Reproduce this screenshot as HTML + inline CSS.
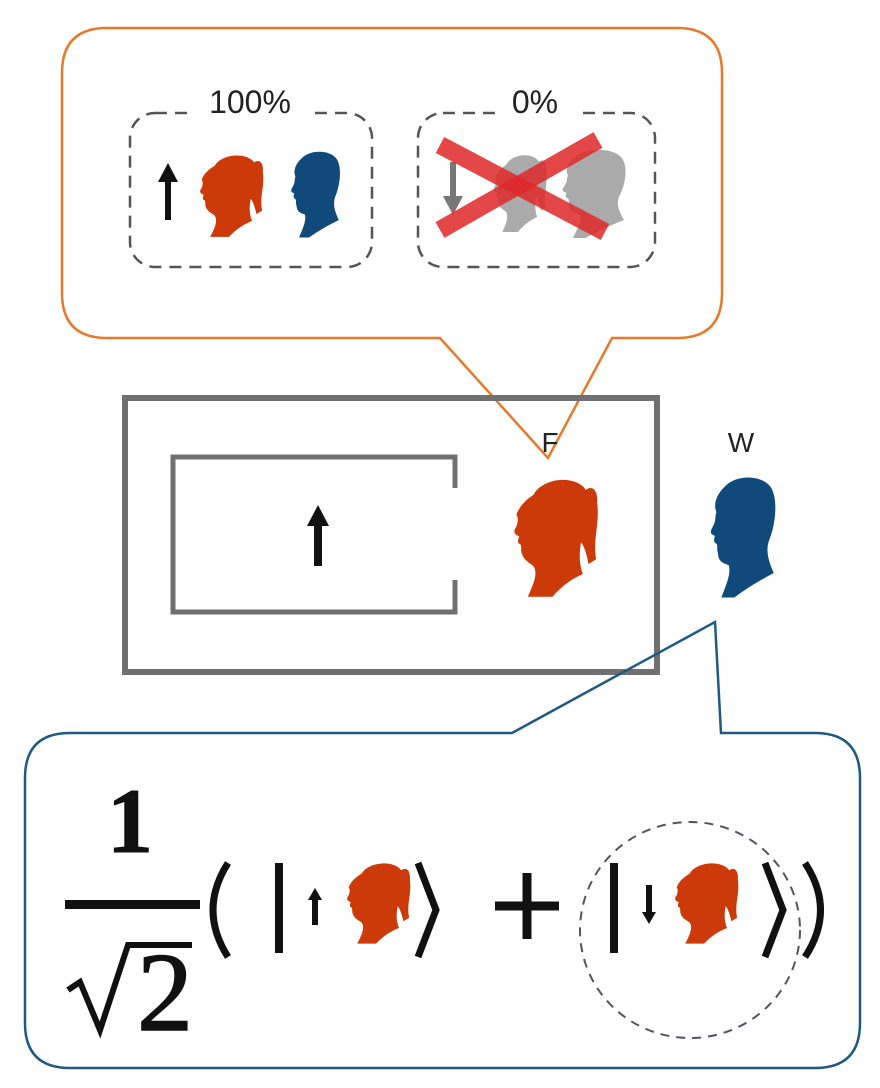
<!DOCTYPE html>
<html><head><meta charset="utf-8"><style>html,body{margin:0;padding:0;background:#fff}svg{display:block}</style></head>
<body>
<svg width="880" height="1088" viewBox="0 0 880 1088" xmlns="http://www.w3.org/2000/svg">
<defs>
<path id="wom" d="M30,20 C40,2 75,0 85,15 C92,10 98,15 97,28 C100,50 92,65 96,85 L88,90 C85,75 82,70 80,68 C78,80 78,90 82,100 C70,105 60,112 50,123 L24,123 C30,110 35,100 30,92 C25,88 20,86 18,80 C16,76 18,72 16,70 C12,68 14,65 15,62 C10,60 8,58 12,52 C14,46 14,44 12,40 C15,32 22,25 30,20 Z"/>
<path id="man" d="M30,12 C45,-2 80,0 88,15 C96,30 90,55 85,65 C80,75 82,85 90,100 C72,108 58,115 42,125 L26,125 C33,110 38,100 35,92 C28,90 22,88 22,80 C20,76 22,72 20,70 C15,68 18,64 18,62 C12,60 12,58 16,52 C20,46 18,42 20,38 C16,30 20,20 30,12 Z"/>
</defs>
<path d="M107,28 H677 Q722,28 722,73 V293 Q722,338 677,338 H612 L548,458 L440,338 H107 Q62,338 62,293 V73 Q62,28 107,28 Z" fill="none" stroke="#e8792a" stroke-width="2.5"/>
<rect x="130" y="113" width="242" height="154" rx="25" fill="none" stroke="#555" stroke-width="2.5" stroke-dasharray="12,8"/>
<rect x="190" y="95" width="120" height="30" fill="#fff"/>
<text x="250" y="113" font-family="Liberation Sans, sans-serif" font-size="32" text-anchor="middle" fill="#222">100%</text>
<rect x="418" y="113" width="237" height="154" rx="25" fill="none" stroke="#555" stroke-width="2.5" stroke-dasharray="12,8"/>
<rect x="495" y="95" width="80" height="30" fill="#fff"/>
<text x="535" y="113" font-family="Liberation Sans, sans-serif" font-size="32" text-anchor="middle" fill="#222">0%</text>
<path d="M165,220 V182 H158 L168,163 L178,182 H171 V220 Z" fill="#111"/>
<use href="#wom" transform="translate(193,152) scale(0.72,0.69)" fill="#cc3a0a"/>
<use href="#man" transform="translate(283,150) scale(0.62,0.7)" fill="#0f4a7a"/>
<path d="M450,162 V196 H443 L453,215 L463,196 H456 V162 Z" fill="#777"/>
<use href="#wom" transform="translate(488,152) scale(0.6,0.65)" fill="#aaa"/>
<use href="#man" transform="translate(552,148) scale(0.8,0.72)" fill="#aaa"/>
<line x1="440" y1="145" x2="605" y2="232" stroke="#e02828" stroke-width="18" opacity="0.85"/>
<line x1="440" y1="230" x2="598" y2="140" stroke="#e02828" stroke-width="18" opacity="0.85"/>
<rect x="125" y="398" width="532" height="274" fill="none" stroke="#707070" stroke-width="6"/>
<path d="M455,488 V457 H173 V612 H455 V580" fill="none" stroke="#707070" stroke-width="5"/>
<path d="M314,566 V526 H307 L318,505 L329,526 H322 V566 Z" fill="#111"/>
<text x="550" y="452" font-family="Liberation Sans, sans-serif" font-size="28" text-anchor="middle" fill="#222">F</text>
<text x="741" y="452" font-family="Liberation Sans, sans-serif" font-size="28" text-anchor="middle" fill="#222">W</text>
<use href="#wom" transform="translate(505,475) scale(0.95,0.99)" fill="#cc3a0a"/>
<use href="#man" transform="translate(700,475) scale(0.82,0.98)" fill="#0f4a7a"/>
<path d="M512,733 L715,622 L721,733 H815 Q860,733 860,778 V1023 Q860,1068 815,1068 H70 Q25,1068 25,1023 V778 Q25,733 70,733 Z" fill="none" stroke="#1e5a82" stroke-width="2.5"/>
<g font-family="Liberation Serif, serif" fill="#111" stroke="#111">
<text x="130" y="852" font-size="92" font-weight="bold" stroke-width="1" text-anchor="middle">1</text>
<rect x="65" y="900" width="135" height="9" stroke="none"/>
<path d="M68,990 L80,982 L100,1030 L128,945 H192" fill="none" stroke-width="6"/>
<text x="165" y="1030" font-size="112" stroke-width="1.5" text-anchor="middle">2</text>
</g>
<g fill="none" stroke="#111" stroke-linecap="butt">
<path d="M228,863 Q198,910 228,957" stroke-width="7"/>
<line x1="279" y1="863" x2="279" y2="953" stroke-width="8"/>
<path d="M418,863 L436,910 L418,957" stroke-width="7"/>
<line x1="527" y1="873" x2="527" y2="939" stroke-width="9"/>
<line x1="495" y1="906" x2="559" y2="906" stroke-width="9"/>
<line x1="614" y1="863" x2="614" y2="953" stroke-width="8"/>
<path d="M765,863 L783,910 L765,957" stroke-width="7"/>
<path d="M805,863 Q836,910 805,957" stroke-width="7"/>
</g>
<path d="M312,925 V900 H308 L315,888 L322,900 H318 V925 Z" fill="#111"/>
<path d="M646,885 V912 H642 L649,924 L656,912 H652 V885 Z" fill="#111"/>
<use href="#wom" transform="translate(340,860) scale(0.72,0.68)" fill="#cc3a0a"/>
<use href="#wom" transform="translate(668,860) scale(0.72,0.68)" fill="#cc3a0a"/>
<ellipse cx="690" cy="930" rx="110" ry="108" fill="none" stroke="#5a5060" stroke-width="2" stroke-dasharray="9,7"/>
</svg>
</body></html>
